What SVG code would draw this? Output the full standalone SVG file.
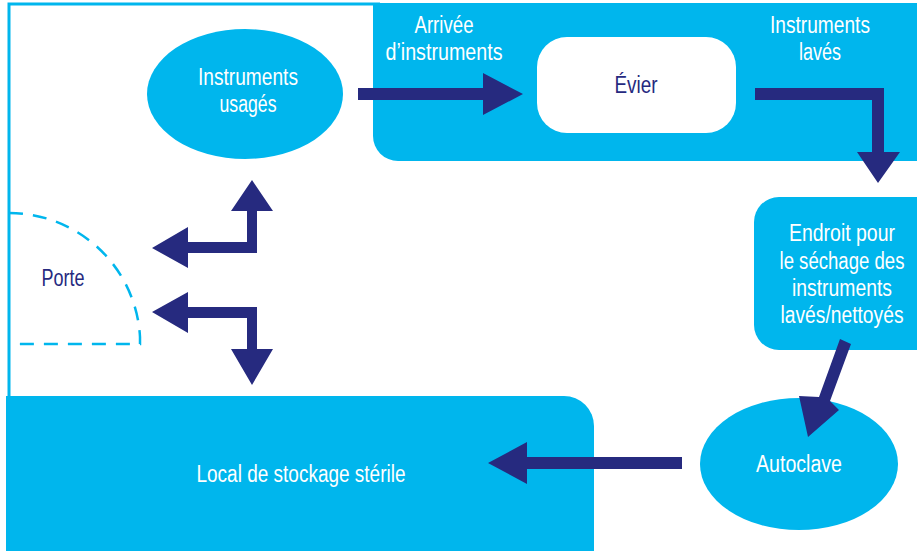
<svg xmlns="http://www.w3.org/2000/svg" width="917" height="551" viewBox="0 0 917 551">
<defs>
<style>
.blue{fill:#00b6ed}
.wt{fill:#ffffff;font-family:"Liberation Sans",Arial,sans-serif;font-size:23px;text-anchor:middle}
.dt{fill:#262a7f;font-family:"Liberation Sans",Arial,sans-serif;font-size:23px;text-anchor:middle}
.arr{fill:#262a7f}
</style>
</defs>
<rect width="917" height="551" fill="#ffffff"/>
<g id="frame">
<path d="M9 397 V4 H380" fill="none" stroke="#00b6ed" stroke-width="3"/>
</g>
<g id="door">
<path d="M9 213 A131 131 0 0 1 140 337 V344 H9" fill="none" stroke="#00b6ed" stroke-width="2.5" stroke-dasharray="14 10"/>
<text class="dt" x="63" y="286" textLength="43" lengthAdjust="spacingAndGlyphs">Porte</text>
</g>
<g id="wash-area">
<path class="blue" d="M373 3 H917 V161 H398 A25 25 0 0 1 373 136 Z"/>
<text class="wt" x="444" y="33" textLength="59" lengthAdjust="spacingAndGlyphs">Arrivée</text>
<text class="wt" x="444" y="60" textLength="117" lengthAdjust="spacingAndGlyphs">d’instruments</text>
<text class="wt" x="820" y="33" textLength="100" lengthAdjust="spacingAndGlyphs">Instruments</text>
<text class="wt" x="820" y="60" textLength="42" lengthAdjust="spacingAndGlyphs">lavés</text>
</g>
<g id="evier">
<rect x="537" y="37" width="199" height="96" rx="30" fill="#ffffff"/>
<text class="dt" x="636" y="93" textLength="43" lengthAdjust="spacingAndGlyphs">Évier</text>
</g>
<g id="instruments-usages">
<ellipse class="blue" cx="245" cy="94" rx="98" ry="65"/>
<text class="wt" x="248" y="85" textLength="100" lengthAdjust="spacingAndGlyphs">Instruments</text>
<text class="wt" x="248" y="112" textLength="57" lengthAdjust="spacingAndGlyphs">usagés</text>
</g>
<g id="sechage">
<path class="blue" d="M779 197 H917 V350 H779 A25 25 0 0 1 754 325 V222 A25 25 0 0 1 779 197 Z"/>
<text class="wt" x="842" y="241" textLength="106" lengthAdjust="spacingAndGlyphs">Endroit pour</text>
<text class="wt" x="842" y="269" textLength="125" lengthAdjust="spacingAndGlyphs">le séchage des</text>
<text class="wt" x="842" y="296" textLength="100" lengthAdjust="spacingAndGlyphs">instruments</text>
<text class="wt" x="842" y="323" textLength="123" lengthAdjust="spacingAndGlyphs">lavés/nettoyés</text>
</g>
<g id="autoclave">
<ellipse class="blue" cx="799" cy="464" rx="99" ry="66"/>
<text class="wt" x="799" y="472" textLength="86" lengthAdjust="spacingAndGlyphs">Autoclave</text>
</g>
<g id="stockage">
<path class="blue" d="M6 396 H564 A30 30 0 0 1 594 426 V551 H6 Z"/>
<text class="wt" x="301" y="482" textLength="209" lengthAdjust="spacingAndGlyphs">Local de stockage stérile</text>
</g>
<g id="connectors">
<polygon class="arr" points="358,88 483,88 483,73 523,94 483,115 483,100 358,100"/>
<polygon class="arr" points="755,88 884,88 884,152 900,152 878,183 857,152 872,152 872,100 755,100"/>
<polygon class="arr" points="840,339 851,344 830,401 839,410 808,437 799,396 819,397"/>
<polygon class="arr" points="682,457 527,457 527,442 488,463 527,484 527,469 682,469"/>
<polygon class="arr" points="252,180 273,211 257,211 257,253 188,253 188,268 152,248 188,227 188,242 247,242 247,211 231,211"/>
<polygon class="arr" points="152,312 188,292 188,307 257,307 257,349 273,349 252,385 231,349 247,349 247,318 188,318 188,333"/>
</g>
</svg>
